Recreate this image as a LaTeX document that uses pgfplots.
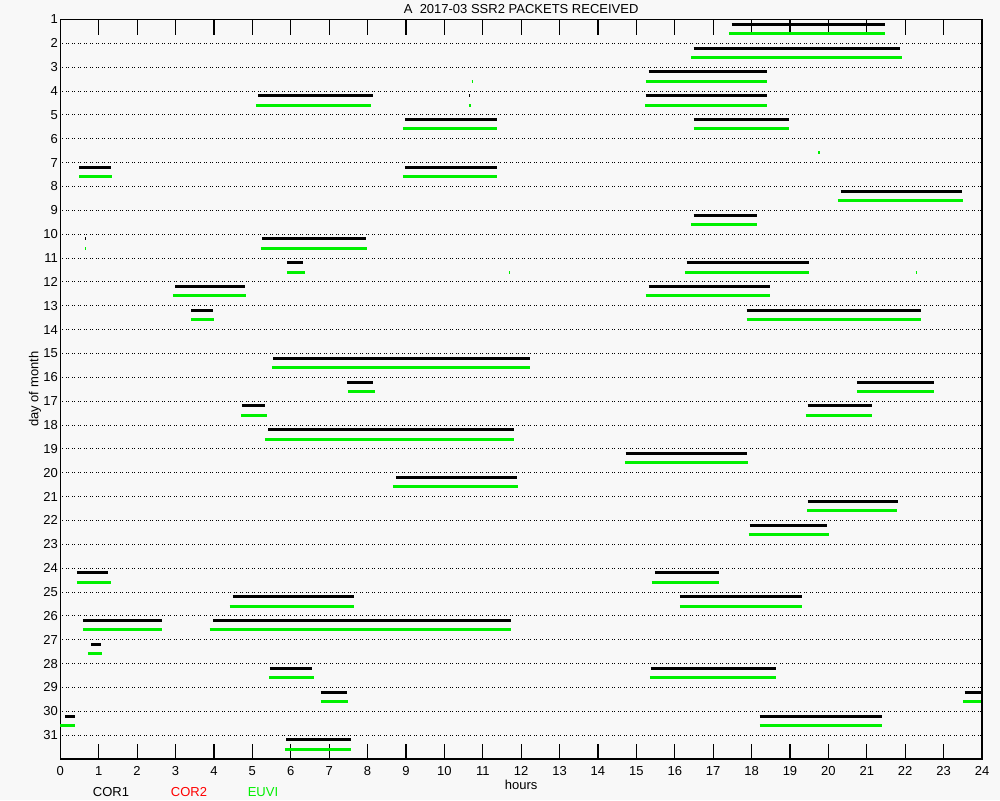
\documentclass[border=0pt]{standalone}
\usepackage{fontspec}
\setmainfont{Liberation Sans}
\usepackage{pgfplots}
\usepackage{pgfplotstable}
\pgfplotsset{compat=1.18}

\definecolor{bg}{RGB}{248,248,248}
\definecolor{euvi}{RGB}{0,240,0}
\definecolor{cortwo}{RGB}{255,0,0}

% packet intervals: start hour, end hour, day of month
\pgfplotstableread{
x0 x1 day
17.48 21.47 1
16.49 21.87 2
15.32 18.39 3
5.15 8.13 4
15.24 18.39 4
10.64 10.67 4
8.97 11.38 5
16.49 18.97 5
0.49 1.32 7
8.97 11.38 7
20.32 23.47 8
16.49 18.13 9
5.25 7.96 10
0.65 0.68 10
5.90 6.32 11
16.31 19.49 11
2.99 4.81 12
15.32 18.47 12
3.40 3.97 13
17.87 22.40 13
5.54 12.22 15
7.46 8.14 16
20.74 22.74 16
4.73 5.33 17
19.46 21.13 17
5.41 11.81 18
14.72 17.87 19
8.74 11.89 20
19.46 21.80 21
17.95 19.96 22
0.43 1.24 24
15.48 17.15 24
4.49 7.64 25
16.13 19.31 25
0.59 2.65 26
3.97 11.73 26
0.80 1.06 27
5.46 6.55 28
15.37 18.63 28
6.78 7.46 29
23.55 23.97 29
0.12 0.38 30
18.21 21.39 30
5.88 7.57 31
}\corone

\pgfplotstableread{
x0 x1 day
17.41 21.47 1
16.42 21.91 2
15.24 18.39 3
10.71 10.74 3
5.09 8.10 4
15.22 18.39 4
10.64 10.69 4
8.92 11.38 5
16.49 18.97 5
19.73 19.78 6
0.49 1.35 7
8.92 11.38 7
20.24 23.50 8
16.42 18.13 9
5.22 7.98 10
0.65 0.68 10
5.90 6.37 11
16.26 19.49 11
11.69 11.72 11
22.27 22.30 11
2.93 4.83 12
15.24 18.47 12
3.40 4.00 13
17.87 22.40 13
5.51 12.22 15
7.49 8.19 16
20.74 22.74 16
4.70 5.38 17
19.41 21.13 17
5.33 11.81 18
14.70 17.90 19
8.66 11.91 20
19.44 21.78 21
17.92 20.01 22
0.43 1.32 24
15.40 17.15 24
4.41 7.64 25
16.13 19.31 25
0.59 2.65 26
3.89 11.73 26
0.72 1.09 27
5.43 6.60 28
15.35 18.63 28
6.78 7.48 29
23.50 23.97 29
0.00 0.38 30
18.21 21.39 30
5.85 7.57 31
}\euvi

\begin{document}
\begin{tikzpicture}[font=\fontsize{13}{15}\selectfont]
\useasboundingbox (0,0) rectangle (1000pt,800pt);
\fill[bg] (0,0) rectangle (1000pt,800pt);
\begin{axis}[
  at={(60.3pt,41pt)}, anchor=south west,
  scale only axis,
  width=921.7pt, height=739.5pt,
  xmin=0, xmax=24, ymin=1, ymax=32,
  y dir=reverse,
  clip=false,
  axis line style={line width=1.5pt},
  xtick={0,...,24},
  ytick={1,...,31},
  tick align=inside,
  major tick length=15pt,
  xtick style={line width=1.2pt, black},
  ytick style={draw=none},
  ymajorgrids=true,
  major grid style={black, line width=1pt, dash pattern=on 1pt off 1pt on 1pt off 3pt},
  /pgf/number format/assume math mode=true,
  xticklabel style={yshift=-4pt},
  yticklabel style={xshift=1pt},
  xlabel={hours},
  xlabel style={at={(axis description cs:0.5,-0.035)}, anchor=center},
  ylabel={day of month},
  ylabel style={at={(axis description cs:-0.0275,0.5)}, anchor=center},
]
\addplot[black, line width=3pt, quiver={u=\thisrow{x1}-\thisrow{x0}, v=0}]
  table[x=x0, y expr=\thisrow{day}+0.2] {\corone};
\addplot[euvi, line width=3pt, quiver={u=\thisrow{x1}-\thisrow{x0}, v=0}]
  table[x=x0, y expr=\thisrow{day}+0.59] {\euvi};
\node[inner sep=0pt] at (axis description cs:0.5,1.0142) {A\ \ 2017-03 SSR2 PACKETS RECEIVED};
\node[black] at (axis description cs:0.055,-0.0446) {COR1};
\node[cortwo] at (axis description cs:0.1396,-0.0446) {COR2};
\node[euvi] at (axis description cs:0.2199,-0.0446) {EUVI};
\end{axis}
\end{tikzpicture}
\end{document}
